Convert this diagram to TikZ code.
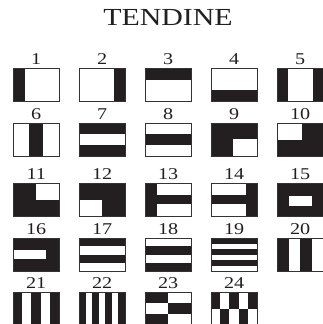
\documentclass[tikz,border=0pt]{standalone}
\usepackage{fontspec}
\setmainfont{Liberation Serif}
\newfontfamily\largo{Liberation Serif}[FakeStretch=1.22]
\usetikzlibrary{positioning}
\definecolor{tinta}{HTML}{231F20}
\newcommand{\striscia}[3]{%
  \foreach \a/\b/\c/\d in {#3}
    \fill[#2] ([shift={(\a*46pt,-\b*33pt)}]#1.north west) rectangle ([shift={(\c*46pt,-\d*33pt)}]#1.north west);}
\begin{document}
\begin{tikzpicture}[x=1pt, y=-1pt,
  tendina/.style={minimum width=46pt, minimum height=33pt, inner sep=0pt, anchor=north west},
  bordo/.style={draw=black!80, line width=0.7pt},
  numero/.style={font=\largo\fontsize{16.5}{17}\selectfont, inner sep=0pt, text=tinta},
  titolo/.style={font=\largo\fontsize{24.5}{25}\selectfont, inner sep=0pt, text=tinta}
]
\useasboundingbox (0,0) rectangle (323,324);
\node[titolo] (titolo) at (168,18) {TENDINE};
\foreach \y [count=\r from 0] in {68,123,183,238,292}
  \foreach \c in {0,...,4} {
    \pgfmathtruncatemacro\n{5*\r+\c+1}
    \ifnum\n<25
      \node[tendina] (t\n) at (13+66*\c,\y) {};
      \node[numero, above=3.5pt of t\n] (n\n) {\n};
    \fi
  }
\striscia{t1}{tinta}{0/0/0.25/1}
\striscia{t2}{tinta}{0.75/0/1/1}
\striscia{t3}{tinta}{0/0/1/0.35}
\striscia{t4}{tinta}{0/0.68/1/1}
\striscia{t5}{tinta}{0/0/0.24/1, 0.78/0/1/1}
\striscia{t6}{tinta}{0.34/0/0.66/1}
\striscia{t7}{tinta}{0/0/1/0.33, 0/0.67/1/1}
\striscia{t8}{tinta}{0/0.33/1/0.67}
\striscia{t9}{tinta}{0/0/1/1} \striscia{t9}{white}{0.47/0.47/1/1}
\striscia{t10}{tinta}{0/0/1/1} \striscia{t10}{white}{0/0/0.55/0.5}
\striscia{t11}{tinta}{0/0/1/1} \striscia{t11}{white}{0.5/0/1/0.5}
\striscia{t12}{tinta}{0/0/1/1} \striscia{t12}{white}{0/0.5/0.5/1}
\striscia{t13}{tinta}{0/0/0.27/1, 0.27/0.35/1/0.65}
\striscia{t14}{tinta}{0.76/0/1/1, 0/0.35/0.76/0.65}
\striscia{t15}{tinta}{0/0/1/1} \striscia{t15}{white}{0.25/0.38/0.77/0.7}
\striscia{t16}{tinta}{0/0/1/1} \striscia{t16}{white}{0/0.36/0.72/0.64}
\striscia{t17}{tinta}{0/0/1/0.24, 0/0.5/1/0.75}
\striscia{t18}{tinta}{0/0.24/1/0.5, 0/0.75/1/1}
\striscia{t19}{tinta}{0/0/1/0.1667, 0/0.3333/1/0.5, 0/0.6667/1/0.8333}
\striscia{t20}{tinta}{0/0/0.25/1, 0.5/0/0.75/1}
\striscia{t21}{tinta}{0/0/0.2/1, 0.4/0/0.6/1, 0.8/0/1/1}
\striscia{t22}{tinta}{0/0/0.1429/1, 0.2857/0/0.4286/1, 0.5714/0/0.7143/1, 0.8571/0/1/1}
\striscia{t23}{tinta}{0/0/0.5/0.3333, 0.5/0.3333/1/0.6667, 0/0.6667/0.5/1}
\striscia{t24}{tinta}{0/0/0.2/0.5, 0.4/0/0.6/0.5, 0.8/0/1/0.5, 0.2/0.5/0.4/1, 0.6/0.5/0.8/1}
\foreach \n in {1,...,24}
  \draw[bordo] (t\n.north west) rectangle (t\n.south east);
\end{tikzpicture}
\end{document}
